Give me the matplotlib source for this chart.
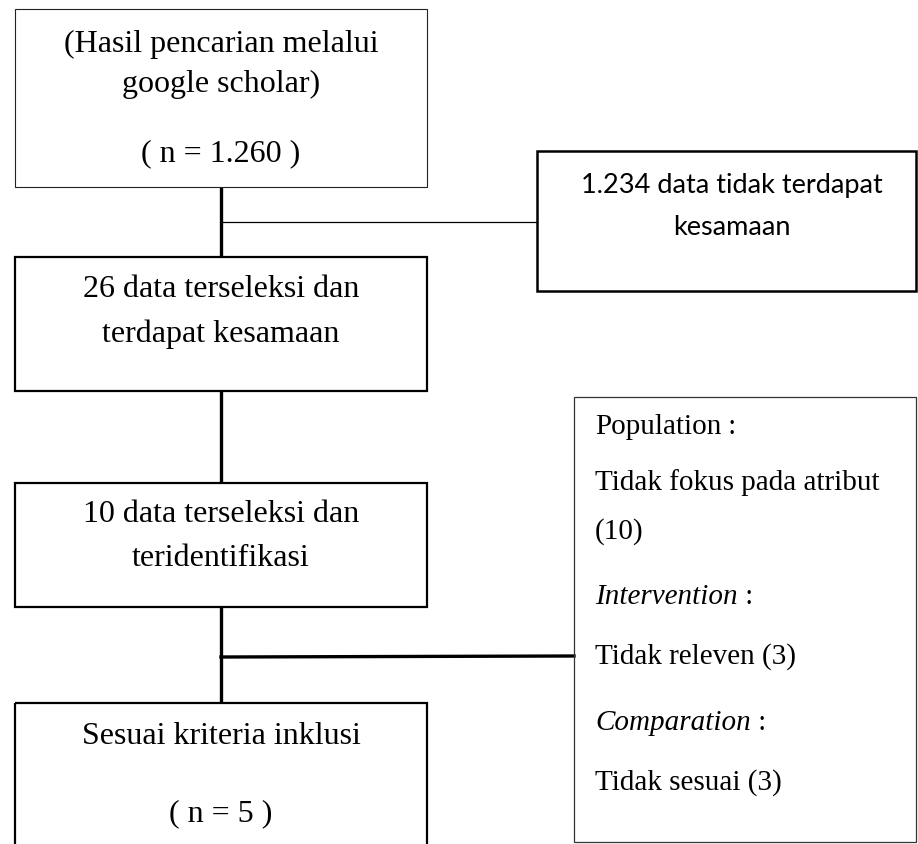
import matplotlib.pyplot as plt
import matplotlib.patches as patches

# ---------------------------------------------------------------------------
# content of the flow chart
# ---------------------------------------------------------------------------
main_labels = [
    ["(Hasil pencarian melalui", "google scholar)", "( n = 1.260 )"],
    ["26 data terseleksi dan", "terdapat kesamaan"],
    ["10 data terseleksi dan", "teridentifikasi"],
    ["Sesuai kriteria inklusi", "( n = 5 )"],
]
excluded_1 = ["1.234 data tidak terdapat", "kesamaan"]
excluded_2 = [
    ("Population", " :", False),
    ("Tidak fokus pada atribut", "", False),
    ("(10)", "", False),
    ("Intervention", " :", True),
    ("Tidak releven (3)", "", False),
    ("Comparation", " :", True),
    ("Tidak sesuai (3)", "", False),
]

# layout (pixels, y grows downwards)
main_boxes = [(15, 9, 427, 187), (15, 257, 427, 391), (15, 483, 427, 607), (15, 703, 427, 860)]
main_lw = [0.8, 1.6, 1.6, 1.6]
main_baselines = [[52, 92, 161], [297, 342], [522, 566], [744, 821]]
ex1_box = (537, 151, 916, 291)
ex1_baselines = [193, 235]
ex2_box = (574, 397, 916, 842)
ex2_baselines = [434, 490, 539, 604, 664, 730, 790]

serif = "Liberation Serif"
FS_MAIN = 23
FS_SIDE = 21

fig = plt.figure(figsize=(9.18, 8.44), dpi=100)
ax = fig.add_axes([0, 0, 1, 1])
ax.set_xlim(0, 918)
ax.set_ylim(844, 0)
ax.axis("off")


def box(x0, y0, x1, y1, lw, color="black"):
    ax.add_patch(patches.Rectangle((x0, y0), x1 - x0, y1 - y0, fill=False,
                                   edgecolor=color, linewidth=lw, zorder=2))


# main column
cx = 221
for (x0, y0, x1, y1), lw, lines, bl in zip(main_boxes, main_lw, main_labels, main_baselines):
    box(x0, y0, x1, y1, lw, "#222222" if lw < 1 else "black")
    for txt, y in zip(lines, bl):
        ax.text(cx, y, txt, fontsize=FS_MAIN, family=serif, ha="center", va="baseline")

# connectors between main boxes
for (a, b) in zip(main_boxes[:-1], main_boxes[1:]):
    ax.plot([cx, cx], [a[3], b[1]], color="black", lw=2.4, solid_capstyle="butt", zorder=1)

# side connectors
ax.plot([cx, ex1_box[0]], [222, 222], color="black", lw=0.9, zorder=1)
ax.plot([cx, ex2_box[0]], [657, 656], color="black", lw=2.4, zorder=1)

# excluded box 1 (Calibri-like sans)
box(*ex1_box, lw=1.8)
for txt, y in zip(excluded_1, ex1_baselines):
    ax.text(732, y, txt, fontsize=19.5, family="Lato", ha="center", va="baseline")

# excluded box 2
box(*ex2_box, lw=0.9, color="#333333")
for (txt, tail, ital), y in zip(excluded_2, ex2_baselines):
    t = ax.text(595, y, txt, fontsize=FS_SIDE, family=serif, ha="left", va="baseline",
                style="italic" if ital else "normal")
    if tail:
        ax.annotate(tail, xy=(1, 0), xycoords=t, fontsize=FS_SIDE, family=serif,
                    ha="left", va="bottom")

fig.savefig("out.png", dpi=100)
